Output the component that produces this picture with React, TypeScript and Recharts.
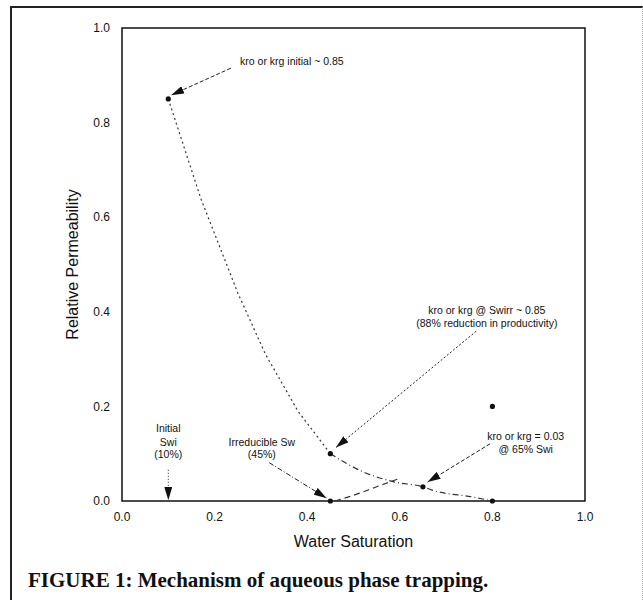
import {
  ComposedChart,
  Line,
  Scatter,
  XAxis,
  YAxis,
  ReferenceArea,
  ReferenceDot,
} from "recharts";

// oil / gas relative permeability curve (upper dotted part and lower dash-dot part)
const kroUpperSw = [0.1, 0.17, 0.2, 0.25, 0.28, 0.31, 0.38, 0.45];
const kroUpperKr = [0.85, 0.64, 0.565, 0.44, 0.375, 0.31, 0.19, 0.1];
const kroLowerSw = [0.45, 0.52, 0.59, 0.65, 0.67, 0.76, 0.8];
const kroLowerKr = [0.1, 0.062, 0.04, 0.03, 0.023, 0.008, 0];

// water curve, only the visible start
const krwSw = [0.46, 0.5, 0.55, 0.6];
const krwKr = [0, 0.012, 0.03, 0.048];

// marked points
const markerSw = [0.1, 0.45, 0.65, 0.8, 0.45, 0.8];
const markerKr = [0.85, 0.1, 0.03, 0.2, 0, 0];

const xTicks = [0, 0.2, 0.4, 0.6, 0.8, 1];
const yTicks = [0, 0.2, 0.4, 0.6, 0.8, 1];
const minorTicks = [0.1, 0.2, 0.3, 0.4, 0.5, 0.6, 0.7, 0.8, 0.9];

// annotation arrows: [fromSw, fromKr, toSw, toKr, dash pattern]
const arrows: [number, number, number, number, string][] = [
  [0.235, 0.915, 0.106, 0.858, "4 2"],
  [0.765, 0.359, 0.462, 0.113, "2 2"],
  [0.795, 0.121, 0.66, 0.04, "4 2"],
  [0.318, 0.081, 0.442, 0.006, "5 2 1 2"],
  [0.1, 0.066, 0.1, 0.002, "1 2"],
];

// annotation text lines: [text, Sw, Kr]
const notes: [string, number, number][] = [
  ["kro or krg initial ~ 0.85", 0.367, 0.93],
  ["kro or krg @ Swirr ~ 0.85", 0.788, 0.403],
  ["(88% reduction in productivity)", 0.788, 0.376],
  ["kro or krg = 0.03", 0.872, 0.136],
  ["@ 65% Swi", 0.872, 0.11],
  ["Irreducible Sw", 0.302, 0.125],
  ["(45%)", 0.302, 0.098],
  ["Initial", 0.1, 0.153],
  ["Swi", 0.1, 0.125],
  ["(10%)", 0.1, 0.098],
];

const toPoints = (xs: number[], ys: number[]) =>
  xs.map((x, i) => ({ x, y: ys[i] }));

const font = "'Liberation Sans', Arial, sans-serif";

export default function App() {
  return (
    <div
      style={{
        position: "absolute",
        left: 0,
        top: 0,
        width: 643,
        height: 600,
        background: "#fff",
        overflow: "hidden",
      }}
    >
      <div
        style={{
          position: "absolute",
          left: 10,
          top: 6,
          width: 630,
          height: 600,
          borderLeft: "2px solid #222",
          borderTop: "2px solid #222",
          borderRight: "1px dotted #aaa",
        }}
      />
      <div style={{ position: "absolute", left: 0, top: 0 }}>
        <ComposedChart
          width={643}
          height={600}
          margin={{ top: 28, right: 58, bottom: 0, left: 0 }}
          style={{ fontFamily: font }}
        >
          <defs>
            <marker
              id="ah"
              viewBox="0 0 13 8"
              refX="13"
              refY="4"
              markerWidth="13"
              markerHeight="8"
              markerUnits="userSpaceOnUse"
              orient="auto"
            >
              <path d="M0,0 L13,4 L0,8 z" fill="#111" />
            </marker>
          </defs>
          <XAxis
            type="number"
            dataKey="x"
            domain={[0, 1]}
            ticks={xTicks}
            tickFormatter={(v: number) => v.toFixed(1)}
            height={99}
            tickSize={0}
            tickMargin={11}
            axisLine={false}
            tick={{ fontSize: 12, fill: "#111" }}
            label={{
              value: "Water Saturation",
              position: "center",
              dy: -9,
              fontSize: 16,
              fill: "#111",
            }}
          />
          <XAxis
            xAxisId="m"
            type="number"
            dataKey="x"
            domain={[0, 1]}
            ticks={minorTicks}
            mirror
            tick={false}
            tickSize={5}
            axisLine={false}
            tickLine={{ stroke: "#777", strokeDasharray: "1 1" }}
          />
          <YAxis
            type="number"
            domain={[0, 1]}
            ticks={yTicks}
            tickFormatter={(v: number) => v.toFixed(1)}
            width={122}
            tickSize={0}
            tickMargin={12}
            axisLine={false}
            tick={{ fontSize: 12, fill: "#111" }}
            label={{
              value: "Relative Permeability",
              angle: -90,
              position: "center",
              dx: 11,
              fontSize: 16,
              fill: "#111",
            }}
          />
          <YAxis
            yAxisId="m"
            type="number"
            domain={[0, 1]}
            ticks={minorTicks}
            mirror
            tick={false}
            tickSize={5}
            axisLine={false}
            tickLine={{ stroke: "#777", strokeDasharray: "1 1" }}
          />
          <ReferenceArea
            x1={0}
            x2={1}
            y1={0}
            y2={1}
            fill="none"
            stroke="#111"
            strokeWidth={1.5}
          />
          <Line
            data={toPoints(kroUpperSw, kroUpperKr)}
            dataKey="y"
            type="linear"
            stroke="#333"
            strokeWidth={1.2}
            strokeDasharray="2 3"
            dot={false}
            isAnimationActive={false}
          />
          <Line
            data={toPoints(kroLowerSw, kroLowerKr)}
            dataKey="y"
            type="monotone"
            stroke="#333"
            strokeWidth={1.2}
            strokeDasharray="6 3 1 3"
            dot={false}
            isAnimationActive={false}
          />
          <Line
            data={toPoints(krwSw, krwKr)}
            dataKey="y"
            type="monotone"
            stroke="#333"
            strokeWidth={1.2}
            strokeDasharray="6 4"
            dot={false}
            isAnimationActive={false}
          />
          {arrows.map(([x1, y1, x2, y2, dash], i) => (
            <Line
              key={"a" + i}
              data={[
                { x: x1, y: y1 },
                { x: x2, y: y2 },
              ]}
              dataKey="y"
              type="linear"
              stroke="#222"
              strokeWidth={1}
              strokeDasharray={dash}
              markerEnd="url(#ah)"
              dot={false}
              isAnimationActive={false}
            />
          ))}
          <Scatter
            data={toPoints(markerSw, markerKr)}
            dataKey="y"
            fill="#111"
            shape={(p: any) => <circle cx={p.cx} cy={p.cy} r={2.6} fill="#111" />}
            isAnimationActive={false}
          />
          {notes.map(([text, x, y], i) => (
            <ReferenceDot
              key={"n" + i}
              x={x}
              y={y}
              r={1}
              fill="none"
              stroke="none"
              label={{
                value: text,
                position: "center",
                fontSize: 10.5,
                fill: "#111",
              }}
            />
          ))}
        </ComposedChart>
      </div>
      <div
        style={{
          position: "absolute",
          left: 28,
          top: 568,
          fontFamily: "'Liberation Serif', 'Times New Roman', serif",
          fontWeight: "bold",
          fontSize: 21,
          color: "#111",
          whiteSpace: "nowrap",
        }}
      >
        FIGURE 1: Mechanism of aqueous phase trapping.
      </div>
    </div>
  );
}
